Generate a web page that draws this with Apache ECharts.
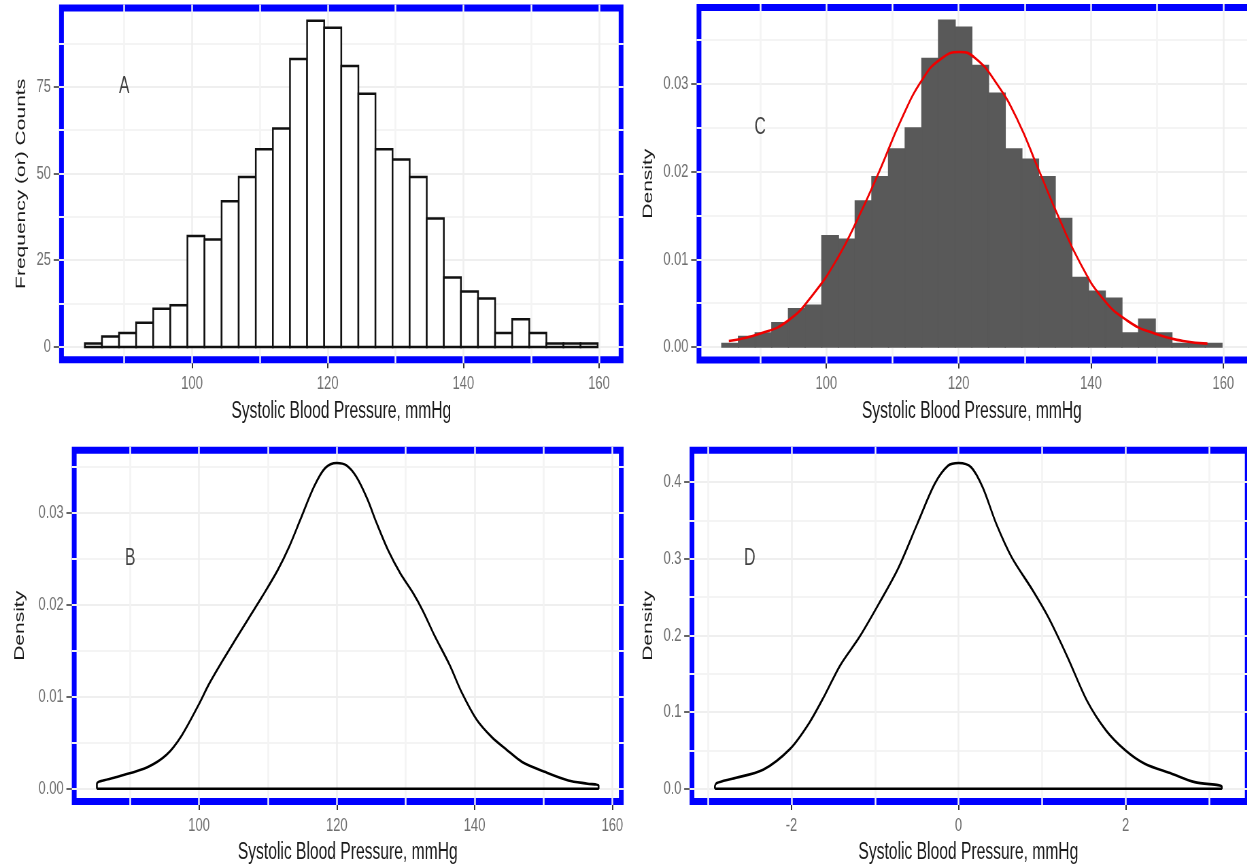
<!DOCTYPE html>
<html>
<head>
<meta charset="utf-8">
<title>Systolic Blood Pressure</title>
<script src="https://cdn.jsdelivr.net/npm/echarts@6/dist/echarts.min.js"></script>
<style>
  html, body { margin: 0; padding: 0; overflow: hidden; background: #fff; }
  /* the source figure is squeezed sideways, so draw wide and squeeze it the same way */
  #chart { width: 1834px; height: 868px; transform: scaleX(0.68); transform-origin: 0 0; }
</style>
</head>
<body>
<div id="chart"></div>
<script>
/*
 * 收缩压分布：直方图、密度曲线、标准化密度
 */

// histogram, 30 bins (n = 1000)
var binStart = 84.2;
var binWidth = 2.52;
var counts = [1, 3, 4, 7, 11, 12, 32, 31, 42, 49, 57, 63, 83, 94, 92,
              81, 73, 57, 54, 49, 37, 20, 16, 14, 4, 8, 4, 1, 1, 1];

// normal curve over the density histogram (C)
var normX = [85.27, 90.05, 94.3, 98.0, 101.75, 104.9, 108.1, 111.3, 114.5, 117.2, 120.1,
             122.5, 125.7, 128.9, 132.1, 135.3, 138.4, 141.6, 145.4, 149.6, 153.9, 157.6];
var normY = [0.00069, 0.00153, 0.00305, 0.0060, 0.0102, 0.01486, 0.0202, 0.0259, 0.0305, 0.0328, 0.03365,
             0.03296, 0.0301, 0.0259, 0.0202, 0.01448, 0.00953, 0.00571, 0.00305, 0.00153, 0.00069, 0.00039];

// kernel density, mmHg (B)
var densX = [85.17, 88.06, 92.5, 95.3, 97.5, 100, 101.4, 103.1, 105.3, 107.2, 109.2, 111.4,
             113.1, 114.7, 116.7, 118.3, 120, 121.4, 122.8, 124.4, 125.8, 127.5, 129.2, 131.1,
             132.5, 134.2, 136.4, 138.1, 140.3, 142.5, 144.7, 146.9, 150.3, 153.6, 156.4, 158.0];
var densY = [0.00054, 0.00126, 0.00234, 0.0037, 0.0058, 0.0092, 0.0113, 0.0135, 0.0162, 0.0185, 0.0209, 0.0237,
             0.0263, 0.0292, 0.0328, 0.0348, 0.03536, 0.0351, 0.0339, 0.0315, 0.0288, 0.0258, 0.0234, 0.0212,
             0.0193, 0.0166, 0.0134, 0.0105, 0.0075, 0.0056, 0.0042, 0.0029, 0.0018, 0.0009, 0.00054, 0.00036];

// kernel density, standardised (D)
var zX = [-2.917, -2.894, -2.71, -2.34, -2.017, -1.787, -1.602, -1.417, -1.186, -0.956, -0.725, -0.494,
          -0.286, -0.125, 0, 0.152, 0.29, 0.452, 0.636, 0.89, 1.075, 1.305, 1.536, 1.766, 1.998,
          2.229, 2.552, 2.828, 3.151];
var zY = [0.003, 0.0073, 0.013, 0.0248, 0.052, 0.086, 0.122, 0.161, 0.198, 0.241, 0.287, 0.3455,
          0.3977, 0.4215, 0.425, 0.4193, 0.393, 0.3455, 0.302, 0.2585, 0.2237, 0.1716, 0.1151, 0.076, 0.05,
          0.0326, 0.0196, 0.0086, 0.003];

// tick labels
var mmTicks = [100, 120, 140, 160];
var countTicks = [0, 25, 50, 75];
var densTicks = [0, 0.01, 0.02, 0.03];
var zTicks = [-2, 0, 2];
var zDensTicks = [0, 0.1, 0.2, 0.3, 0.4];

// panel tags, in data coordinates of each panel (A, C, B, D)
var tags = ['A', 'C', 'B', 'D'];
var tagPos = [[90, 75], [90, 0.025], [90, 0.025], [-2.5, 0.3]];

var xName = 'Systolic Blood Pressure, mmHg';
var FONT = "'Liberation Sans', Arial, sans-serif";

// grid 0 = A, 1 = C, 2 = B, 3 = D
var grids = [
  { left: 86.9, top: 4.5, width: 829.9, height: 358.8 },
  { left: 1024.4, top: 4, width: 817.4, height: 359.4 },
  { left: 105.6, top: 446.7, width: 811.5, height: 358.3 },
  { left: 1014.1, top: 446.7, width: 823.6, height: 358.3 }
];

function zip(xs, ys) {
  var out = [];
  for (var i = 0; i < xs.length; i++) out.push([xs[i], ys[i]]);
  return out;
}

// curve closed along the baseline, like an outlined density
function closedCurve(xs, ys) {
  var pts = zip(xs, ys);
  pts.unshift([xs[0], 0]);
  pts.push([xs[xs.length - 1], 0]);
  pts.push([xs[0], 0]);
  return pts;
}

function histData(asDensity) {
  var total = 0;
  counts.forEach(function(c) { total += c; });
  return counts.map(function(c, i) {
    var lo = binStart + i * binWidth;
    return [lo, lo + binWidth, asDensity ? c / (total * binWidth) : c];
  });
}

function makeAxis(dim, gi, min, max, step, ticks, digits, name, nameGap) {
  var isX = dim === 'x';
  return {
    type: 'value',
    gridIndex: gi,
    min: min,
    max: max,
    minInterval: step,
    maxInterval: step,
    name: name,
    nameLocation: 'middle',
    nameGap: nameGap,
    nameRotate: isX ? 0 : 90,
    nameTextStyle: { fontFamily: FONT, fontSize: isX ? 23 : 21, color: '#1a1a1a' },
    axisLine: { show: false, onZero: false },
    axisTick: {
      show: true, customValues: ticks, length: isX ? 5 : 8,
      lineStyle: { color: '#333', width: isX ? 2 : 1.5 }
    },
    axisLabel: {
      customValues: ticks, margin: isX ? 11 : 12,
      fontFamily: FONT, fontSize: 19, color: '#707070',
      formatter: function(v) { return Number(v).toFixed(digits); }
    },
    splitLine: { show: true, lineStyle: { color: '#efefef', width: isX ? 2.5 : 2 } },
    minorTick: { show: false, splitNumber: 2 },
    minorSplitLine: { show: true, lineStyle: { color: '#f4f4f4', width: isX ? 2.5 : 2 } }
  };
}

function histSeries(gi, data, style) {
  return {
    type: 'custom',
    xAxisIndex: gi,
    yAxisIndex: gi,
    data: data,
    encode: { x: [0, 1], y: 2 },
    z: 3,
    renderItem: function(params, api) {
      var p0 = api.coord([api.value(0), api.value(2)]);
      var p1 = api.coord([api.value(1), 0]);
      return {
        type: 'rect',
        shape: { x: p0[0], y: p0[1], width: p1[0] - p0[0], height: p1[1] - p0[1] },
        style: style
      };
    }
  };
}

function lineSeries(gi, data, color, smooth) {
  return {
    type: 'line',
    xAxisIndex: gi,
    yAxisIndex: gi,
    data: data,
    showSymbol: false,
    smooth: smooth,
    z: 4,
    lineStyle: { color: color, width: 2.6 }
  };
}

function tagSeries(gi) {
  return {
    type: 'scatter',
    xAxisIndex: gi,
    yAxisIndex: gi,
    symbolSize: 1,
    itemStyle: { color: 'transparent' },
    z: 5,
    label: {
      show: true, position: 'inside', formatter: '{b}',
      fontFamily: FONT, fontSize: 23, color: '#111'
    },
    data: [{ name: tags[gi], value: tagPos[gi] }]
  };
}

// blue panel frame, drawn under the grid lines so they notch it
function frames() {
  return grids.map(function(g) {
    return {
      type: 'rect',
      z: -1,
      silent: true,
      shape: { x: g.left + 3.5, y: g.top + 3.5, width: g.width - 7, height: g.height - 7 },
      style: { fill: 'transparent', stroke: '#0000ff', lineWidth: 7 }
    };
  });
}

var options = {
  animation: false,
  backgroundColor: '#fff',
  grid: grids,
  graphic: frames(),
  xAxis: [
    makeAxis('x', 0, 80.4, 163.6, 20, mmTicks, 0, xName, 37),
    makeAxis('x', 1, 80.4, 163.6, 20, mmTicks, 0, xName, 37),
    makeAxis('x', 2, 81.53, 161.64, 20, mmTicks, 0, xName, 36),
    makeAxis('x', 3, -3.22, 3.455, 2, zTicks, 0, xName, 36)
  ],
  yAxis: [
    makeAxis('y', 0, -4.7, 98.7, 25, countTicks, 0, 'Frequency (or) Counts', 45),
    makeAxis('y', 1, -0.00187, 0.03913, 0.01, densTicks, 2, 'Density', 61),
    makeAxis('y', 2, -0.00177, 0.03713, 0.01, densTicks, 2, 'Density', 66),
    makeAxis('y', 3, -0.02125, 0.44625, 0.1, zDensTicks, 1, 'Density', 50)
  ],
  series: [
    histSeries(0, histData(false), { fill: '#fff', stroke: '#111', lineWidth: 2.5 }),
    histSeries(1, histData(true), { fill: '#595959', stroke: '#595959', lineWidth: 1.6 }),
    lineSeries(1, zip(normX, normY), '#ee0000', true),
    lineSeries(2, closedCurve(densX, densY), '#000', 0.3),
    lineSeries(3, closedCurve(zX, zY), '#000', 0.3),
    tagSeries(0), tagSeries(1), tagSeries(2), tagSeries(3)
  ]
};

var myEchart = echarts.init(document.getElementById('chart'));
myEchart.setOption(options);
</script>
</body>
</html>
